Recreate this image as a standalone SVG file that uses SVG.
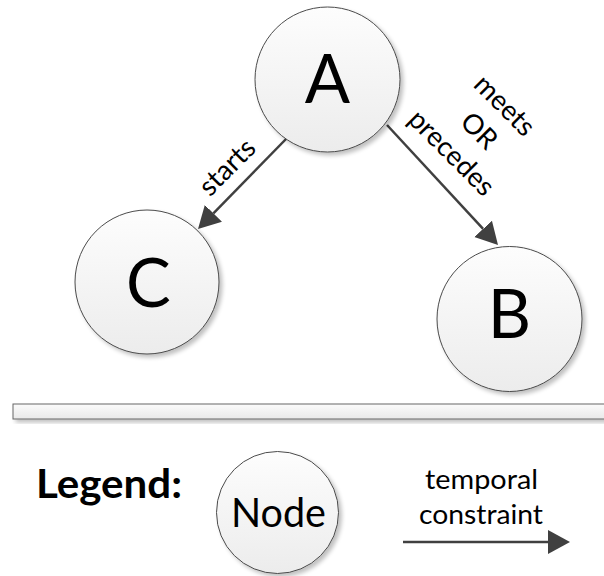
<svg xmlns="http://www.w3.org/2000/svg" width="604" height="576" viewBox="0 0 604 576">
<style>
.node{fill:url(#nodeFill);stroke:#4a4a4a;stroke-width:1;filter:url(#shadow)}
.big{font-family:Lato,"Liberation Sans",sans-serif;font-size:67px;fill:#000;text-anchor:middle}
.lbl{font-family:Lato,"Liberation Sans",sans-serif;font-size:26px;fill:#000;text-anchor:middle}
.rot{font-size:27.5px}
.edge{stroke:#404040;stroke-width:2.5;fill:none;marker-end:url(#arrow)}
</style>
<defs>
<linearGradient id="nodeFill" x1="0" y1="0" x2="0" y2="1">
<stop offset="0" stop-color="#fdfdfd"/>
<stop offset="1" stop-color="#ececec"/>
</linearGradient>
<linearGradient id="barFill" x1="0" y1="0" x2="0" y2="1">
<stop offset="0" stop-color="#fbfbfb"/>
<stop offset="1" stop-color="#e9e9e9"/>
</linearGradient>
<filter id="shadow" x="-20%" y="-20%" width="150%" height="150%">
<feGaussianBlur in="SourceAlpha" stdDeviation="2"/>
<feOffset dx="3" dy="3" result="b"/>
<feComponentTransfer><feFuncA type="linear" slope="0.25"/></feComponentTransfer>
<feMerge><feMergeNode/><feMergeNode in="SourceGraphic"/></feMerge>
</filter>
<marker id="arrow" markerUnits="userSpaceOnUse" markerWidth="24" markerHeight="26" viewBox="0 -13 24 26" refX="0" refY="0" orient="auto">
<path d="M0,-12 L22,0 L0,12 Z" fill="#404040"/>
</marker>
</defs>
<rect width="604" height="576" fill="#fff"/>

<g id="connectors">
<line class="edge" x1="287" y1="138" x2="213.4" y2="213.3"/>
<line class="edge" x1="387" y1="125" x2="483.1" y2="228.9"/>
</g>

<g id="label-starts" transform="translate(228,168) rotate(-45)">
<text class="lbl rot" x="0" y="8">starts</text>
</g>
<g id="label-meets" transform="translate(479,131) rotate(45)">
<text class="lbl rot" x="0" y="-27">meets</text>
<text class="lbl rot" x="0" y="9">OR</text>
<text class="lbl rot" x="-4" y="44">precedes</text>
</g>

<g id="node-A">
<circle class="node" cx="327.5" cy="79.5" r="72.5"/>
<text class="big" x="327.5" y="103">A</text>
</g>
<g id="node-C">
<circle class="node" cx="147" cy="282" r="72"/>
<text class="big" x="148.5" y="307">C</text>
</g>
<g id="node-B">
<circle class="node" cx="509.5" cy="319" r="72.5"/>
<text class="big" x="509.5" y="338">B</text>
</g>

<g id="separator">
<rect x="13" y="404" width="600" height="15" fill="url(#barFill)" stroke="#666" stroke-width="1" filter="url(#shadow)"/>
</g>

<g id="legend">
<text x="36" y="498" font-family="Lato,'Liberation Sans',sans-serif" font-weight="bold" font-size="40" textLength="146" lengthAdjust="spacingAndGlyphs">Legend:</text>
<g id="legend-node">
<circle class="node" cx="277.5" cy="512.5" r="61"/>
<text x="278.5" y="527" font-family="Lato,'Liberation Sans',sans-serif" font-size="40" text-anchor="middle" textLength="95" lengthAdjust="spacingAndGlyphs">Node</text>
</g>
<g id="legend-edge">
<line class="edge" x1="403" y1="542" x2="548" y2="542"/>
<text class="lbl" x="481.5" y="489" textLength="113" lengthAdjust="spacingAndGlyphs">temporal</text>
<text class="lbl" x="481" y="524" textLength="124" lengthAdjust="spacingAndGlyphs">constraint</text>
</g>
</g>
</svg>
